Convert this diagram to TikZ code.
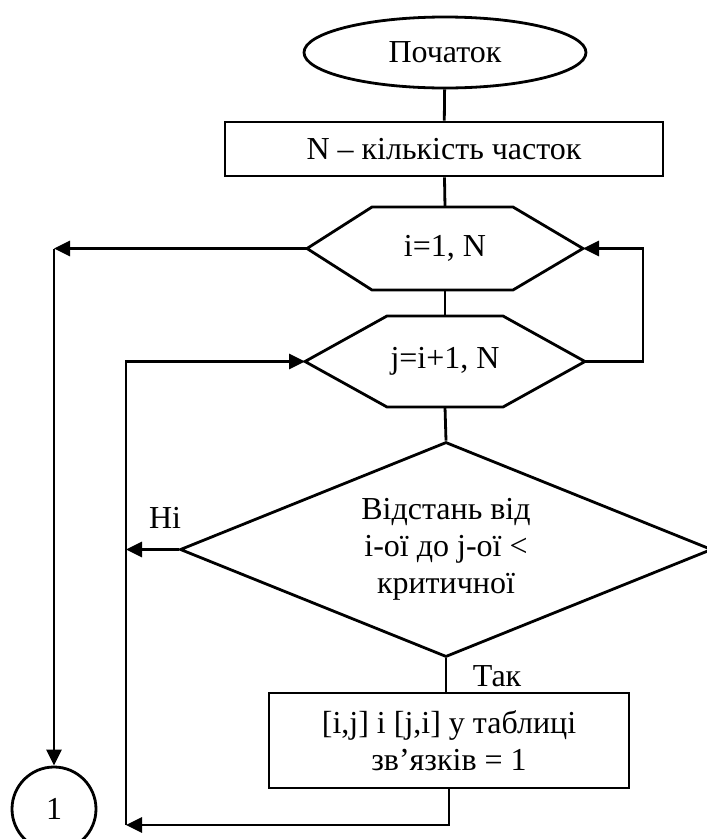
\documentclass[tikz,border=0pt]{standalone}
\usepackage{fontspec}
\setmainfont{Liberation Serif}
\usetikzlibrary{arrows.meta,shapes.geometric}

\begin{document}
\begin{tikzpicture}[x=1pt,y=-1pt,line width=2.8pt,
        every node/.style={font=\fontsize{32}{37}\selectfont},
        arr/.style={-{Triangle[length=16pt,width=15pt]}},
        blok/.style={draw,rectangle,inner sep=0pt,align=center}]
        \useasboundingbox (0,0) rectangle (707,839);
        \clip (0,0) rectangle (707,839);
        \node (start) [draw,ellipse,inner sep=0pt,minimum width=282,minimum height=71] at (445,52.5) {Початок};
        \node (n) [blok,minimum width=438,minimum height=54] at (444,149) {N – кількість часток};
        % cycle i
        \coordinate (h1w) at (307,248.5);
        \coordinate (h1e) at (583,248.5);
        \coordinate (h1n) at (445,207);
        \coordinate (h1s) at (445,290);
        \draw (h1w) -- (372,207) -- (513,207) -- (h1e) -- (513,290) -- (372,290) -- cycle;
        \node (h1) at (445,248.5) {i=1, N};
        % cycle j
        \coordinate (h2w) at (305,361.5);
        \coordinate (h2e) at (585,361.5);
        \coordinate (h2n) at (445,316);
        \coordinate (h2s) at (445,407);
        \draw (h2w) -- (387,316) -- (503,316) -- (h2e) -- (503,407) -- (387,407) -- cycle;
        \node (h2) at (445,361.5) {j=i+1, N};
        \node (d) [draw,diamond,aspect=2.5,inner sep=0pt,minimum width=532,minimum height=215,align=center] at (446,549.5) {Відстань від\\і-ої до j-ої <\\критичної};
        \node (r) [blok,minimum width=360,minimum height=95] at (449,740.5) {[i,j] і [j,i] у таблиці\\зв’язків = 1};
        \node (c1) [draw,circle,inner sep=0pt,minimum size=84] at (54,809) {1};
        \node (ni) at (165,518) {Ні};
        \node (tak) at (497,676) {Так};
        \coordinate (rx) at (643,361.5);
        \coordinate (lx) at (126,825);
        \coordinate (cx) at (54,248.5);
        % lines
        \draw (start) -- (n);
        \draw (n) -- (h1n);
        \draw (h1s) -- (h2n);
        \draw (h2s) -- (d.north);
        \draw (d.south) -- (d.south |- r.north);
        \draw[arr] (h1w) -- (cx);
        \draw[arr] (cx) -- (c1);
        \draw[arr] (h2e) -- (rx) |- (h1e);
        \draw[arr] (d.west) -- (d.west -| lx);
        \draw[arr] (r.south) |- (lx);
        \draw[arr] (lx) |- (h2w);
      \end{tikzpicture}
\end{document}
